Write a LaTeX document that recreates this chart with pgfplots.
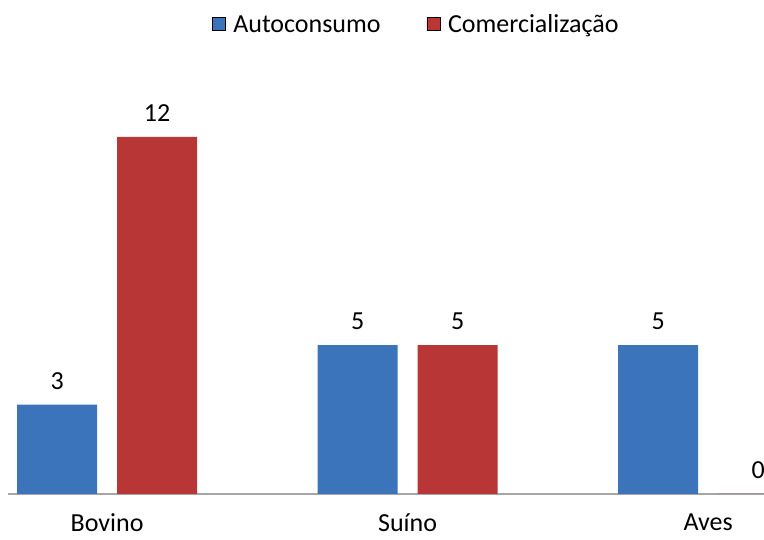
\documentclass[border=0pt]{standalone}
\usepackage{pgfplots}
\pgfplotsset{compat=1.18}
\usepackage{fontspec}
\setmainfont{Carlito}

\definecolor{blueA}{HTML}{5294DE}
\definecolor{blueB}{HTML}{3C74BC}
\definecolor{redA}{HTML}{DE4A48}
\definecolor{redB}{HTML}{B83636}
\definecolor{axisgray}{HTML}{A6A6A6}

\begin{document}
\begin{tikzpicture}[x=1pt,y=1pt]
\useasboundingbox (0,0) rectangle (764,540);
\begin{axis}[
    at={(8pt,46pt)}, anchor=south west,
    scale only axis,
    width=756pt, height=446.25pt,
    xmin=-0.33, xmax=2.186,
    ymin=0, ymax=15,
    ybar, bar width=80pt,
    axis x line=bottom,
    axis y line=none,
    x axis line style={draw=axisgray, line width=1.5pt, -},
    xtick={0,1,2},
    xticklabels={Bovino,Suíno,Aves},
    major tick length=0pt,
    xticklabel style={font=\fontsize{26}{30}\selectfont, yshift=-16pt},
    /pgf/number format/assume math mode=true,
    nodes near coords,
    every node near coord/.append style={font=\fontsize{26}{30}\selectfont, yshift=12pt},
    clip=false,
    legend columns=2,
    legend style={at={(0.54,1.052)}, anchor=center, draw=none, fill=none,
        font=\fontsize{26}{30}\selectfont,
        /tikz/every odd column/.append style={column sep=6pt},
        /tikz/every even column/.append style={column sep=44pt}},
    legend image code/.code={\draw[#1] (0pt,-6pt) rectangle (13pt,7pt);},
]
\addplot[bar shift=-50pt, draw=none, shade, shading=axis, shading angle=90,
    left color=blueB, middle color=blueA, right color=blueB]
    coordinates {(0,3) (1,5) (2,5)};
\addlegendentry{Autoconsumo}
\addplot[bar shift=50pt, draw=none, shade, shading=axis, shading angle=90,
    left color=redB, middle color=redA, right color=redB]
    coordinates {(0,12) (1,5) (2,0)};
\addlegendentry{Comercialização}
\end{axis}
\end{tikzpicture}
\end{document}
